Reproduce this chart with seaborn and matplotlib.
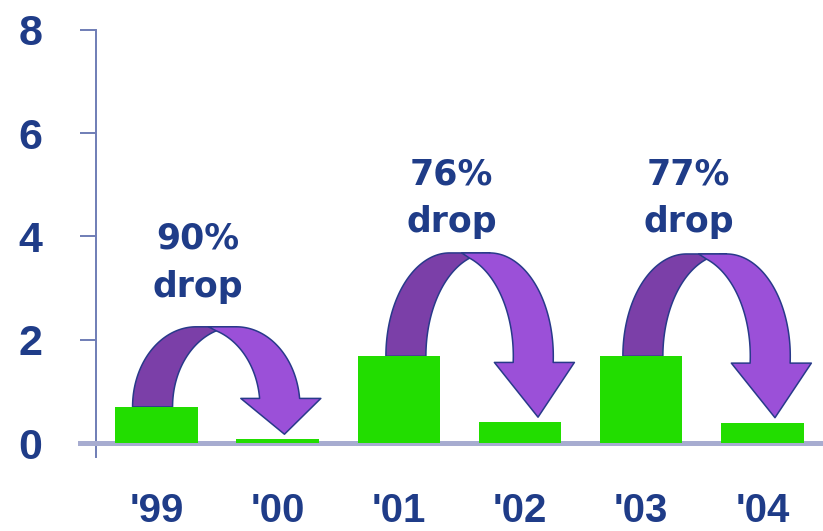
import numpy as np
import pandas as pd
import matplotlib
matplotlib.use("Agg")
import matplotlib.pyplot as plt
import seaborn as sns
from matplotlib.patches import Polygon

# ---- data -------------------------------------------------------------
years = ["'99", "'00", "'01", "'02", "'03", "'04"]
values = [0.70, 0.07, 1.68, 0.40, 1.68, 0.39]
drop_labels = ["90%", "76%", "77%"]
drop_pairs = [(0, 1), (2, 3), (4, 5)]
y_ticks = [0, 2, 4, 6, 8]

# ---- styling / layout -------------------------------------------------
BAR_GREEN = "#22dd00"
TEXT_BLUE = "#1f3c88"
AXIS_BLUE = "#6f7db6"
BASE_LINE = "#a7acd0"
BACK_PURPLE = "#7b3fa8"
FRONT_PURPLE = "#9b50d8"
OUTLINE = "#283a8a"

arc_peaks = [2.25, 3.68, 3.66]        # height of each arc's crown
arc_nudge = [-0.045, 0.045, 0.0]      # small horizontal offset per arc
label_base = [2.83, 4.08, 4.08]       # baseline of the word "drop"

sns.set_style("white")
plt.rcParams["font.family"] = ["DejaVu Sans"]

df = pd.DataFrame({"year": years, "value": values})

fig = plt.figure(figsize=(8.23, 5.31), dpi=100)
ax = fig.add_axes([0.1163, 0.1657, 0.8837, 0.7782])

sns.barplot(data=df, x="year", y="value", color=BAR_GREEN, saturation=1,
            width=0.68, errorbar=None, ax=ax, zorder=3)
for p in ax.patches:
    p.set_zorder(3)
    p.set_linewidth(0)

ax.set_xlim(-0.5, 5.5)
ax.set_ylim(0, 8)
ax.set_yticks(y_ticks)
ax.set_xlabel("")
ax.set_ylabel("")

for side in ("top", "right"):
    ax.spines[side].set_visible(False)
ax.spines["left"].set_color(AXIS_BLUE)
ax.spines["left"].set_linewidth(1.4)
ax.spines["left"].set_bounds(-0.28, 8)
ax.spines["bottom"].set_color(BASE_LINE)
ax.spines["bottom"].set_linewidth(3.6)
ax.spines["bottom"].set_bounds(-0.632, 5.5)

ax.tick_params(axis="y", length=11.5, width=1.4, color=AXIS_BLUE, pad=27,
               labelsize=31, labelcolor=TEXT_BLUE, left=True)
ax.tick_params(axis="x", length=0, pad=35, labelsize=29,
               labelcolor=TEXT_BLUE)
for lab in ax.get_yticklabels() + ax.get_xticklabels():
    lab.set_fontfamily(["Liberation Sans", "DejaVu Sans"])
    lab.set_fontweight("bold")


def drop_arrow(ax, xl, xr, y_foot, y_peak, y_tip, band=0.33, head_hw=0.33,
               notch=0.065):
    """Curved two-tone arrow arching from one bar down onto the next."""
    cx = (xl + xr) / 2
    a = (xr - xl) / 2
    b = y_peak - y_foot
    y_hb = y_tip + (y_peak - y_tip) / 3
    t_end = np.arcsin(np.clip((y_hb - y_foot) / b, -1, 1))
    h = band / 2

    def ex(t):
        return cx + a * np.cos(t)

    def ey(t):
        return y_foot + b * np.sin(t)

    # rising (back) half
    tl = np.linspace(np.pi, np.pi / 2, 80)
    back = list(zip(ex(tl) - h, ey(tl))) + list(zip(ex(tl[::-1]) + h, ey(tl[::-1])))

    # falling (front) half with the head
    t_c = np.arccos(min(h / a, 1))
    ti = np.linspace(t_end, t_c, 80)
    inner = list(zip(ex(ti) - h, ey(ti)))
    to = np.linspace(np.pi / 2, t_end, 80)
    outer = list(zip(ex(to) + h, ey(to)))
    xe = ex(t_end)
    head = [(xe + 0.01 + head_hw, y_hb), (xe + 0.04, y_tip),
            (xe + 0.01 - head_hw, y_hb)]
    front = inner + [(cx - notch, y_peak), (cx + h, y_peak)] + outer + head

    ax.add_patch(Polygon(back, closed=True, facecolor=BACK_PURPLE,
                         edgecolor=OUTLINE, linewidth=1.1, zorder=2,
                         joinstyle="round"))
    ax.add_patch(Polygon(front, closed=True, facecolor=FRONT_PURPLE,
                         edgecolor=OUTLINE, linewidth=1.1, zorder=2.1,
                         joinstyle="round"))
    return cx


for k, (i, j) in enumerate(drop_pairs):
    xl = i + 0.014 + arc_nudge[k]
    xr = j + 0.065 + arc_nudge[k]
    y_tip = values[j] + 0.1
    cx = drop_arrow(ax, xl, xr, values[i], arc_peaks[k], y_tip)
    tx = cx - 0.15
    ax.text(tx, label_base[k] + 0.93, drop_labels[k], ha="center",
            va="baseline", fontsize=25, fontweight="bold", color=TEXT_BLUE,
            zorder=5)
    ax.text(tx, label_base[k], "drop", ha="center", va="baseline",
            fontsize=25, fontweight="bold", color=TEXT_BLUE, zorder=5)

fig.savefig("out.png", dpi=100)
